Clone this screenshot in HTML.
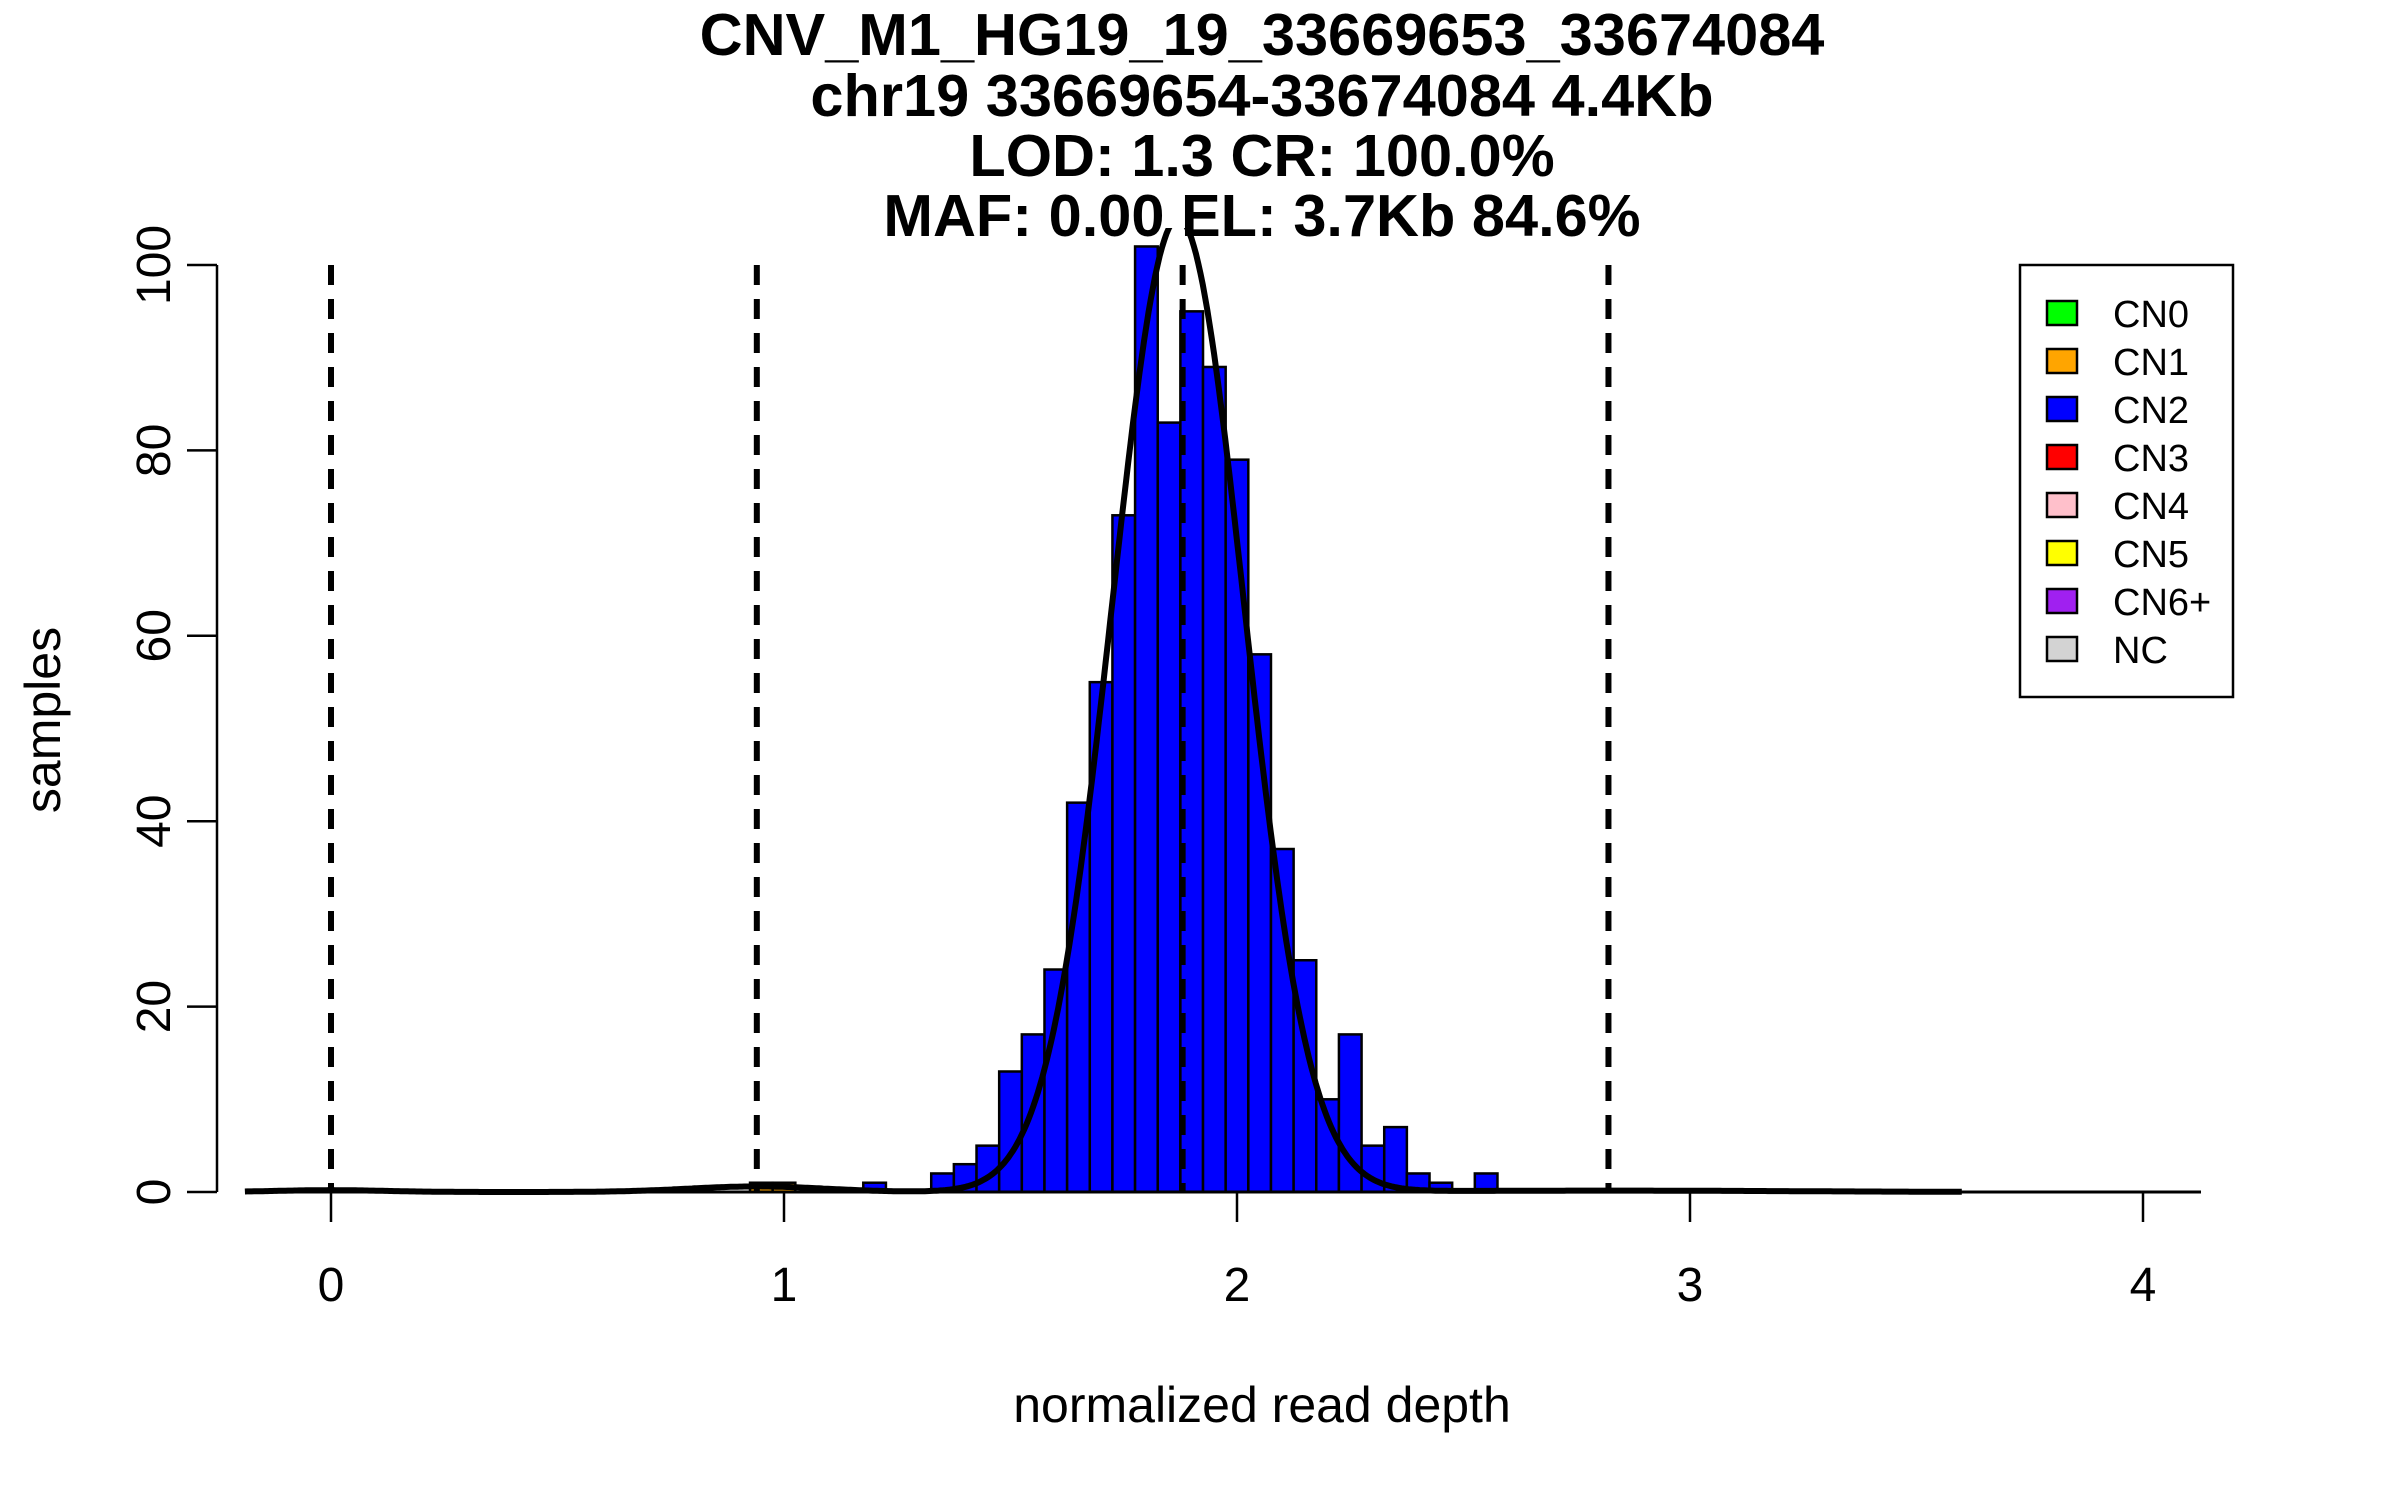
<!DOCTYPE html>
<html><head><meta charset="utf-8"><style>
html,body{margin:0;padding:0;background:#fff;}
svg{display:block;font-family:"Liberation Sans",Arial,sans-serif;}
</style></head><body>
<svg id="chart" width="2400" height="1500" viewBox="0 0 2400 1500" xmlns="http://www.w3.org/2000/svg">
<rect width="2400" height="1500" fill="#fff"/>
<g font-weight="bold" font-size="59.5" text-anchor="middle" fill="#000">
<text x="1262" y="55">CNV_M1_HG19_19_33669653_33674084</text>
<text x="1262" y="116">chr19 33669654-33674084 4.4Kb</text>
<text x="1262" y="176">LOD: 1.3 CR: 100.0%</text>
<text x="1262" y="236">MAF: 0.00 EL: 3.7Kb 84.6%</text>
</g>
<defs><clipPath id="plotclip"><rect x="200" y="228" width="2050" height="977"/></clipPath></defs>
<g id="bars" clip-path="url(#plotclip)"></g>
<g id="dashes"></g>
<path id="curve" fill="none" stroke="#000" stroke-width="6" clip-path="url(#plotclip)"/>
<g id="axes"></g>
<text x="1262" y="1422" font-size="50" text-anchor="middle">normalized read depth</text>
<text transform="translate(60,720) rotate(-90)" font-size="50" text-anchor="middle">samples</text>
<g id="legend"></g>
</svg>
<script>
const binStart = 1.775;
const binWidth = 0.05;
const binIndex = [-17,-16,-12,-9,-8,-7,-6,-5,-4,-3,-2,-1,0,1,2,3,4,5,6,7,8,9,10,11,12,13,15];
const binCounts = [1,1,1,2,3,5,13,17,24,42,55,73,102,83,95,89,79,58,37,25,10,17,5,7,2,1,2];
const binColors = ["orange","orange","blue","blue","blue","blue","blue","blue","blue","blue","blue","blue","blue","blue","blue","blue","blue","blue","blue","blue","blue","blue","blue","blue","blue","blue","blue"];
const thresholds = [0, 0.94, 1.88, 2.82];
const xTicks = [0,1,2,3,4];
const yTicks = [0,20,40,60,80,100];
const fitMean = 1.87, fitSd = 0.145, fitPeak = 105;
const minorMeans = [0, 0.94, 2.82];
const minorPeaks = [0.2, 0.6, 0.15];
const minorSds = [0.12, 0.15, 0.4];
const legendLabels = ["CN0","CN1","CN2","CN3","CN4","CN5","CN6+","NC"];
const legendColors = ["#00ff00","orange","blue","red","pink","yellow","#a020f0","lightgray"];

const NS = "http://www.w3.org/2000/svg";
const X = v => 331 + v * 453;
const Y = v => 1192 - v * 9.27;
function mk(tag, attrs, parent){ const e=document.createElementNS(NS,tag); for(const k in attrs) e.setAttribute(k,attrs[k]); parent.appendChild(e); return e; }

const bars = document.getElementById('bars');
binIndex.forEach((k,i)=>{
  const x0 = binStart + k*binWidth;
  const r = mk('rect',{x:X(x0),y:Y(binCounts[i]),width:X(x0+binWidth)-X(x0),height:Y(0)-Y(binCounts[i]),fill:binColors[i],stroke:'#000','stroke-width':2.5},bars);
  
  
});

const dashes = document.getElementById('dashes');
thresholds.forEach(t=>{
  const l = mk('line',{x1:X(t),x2:X(t),y1:Y(100),y2:Y(0),stroke:'#000','stroke-width':6,'stroke-dasharray':'20,14'},dashes);
  
  
});

let d = "";
for(let i=0;i<=760;i++){
  const x = -0.19 + i*(3.6+0.19)/760;
  let y = fitPeak*Math.exp(-0.5*Math.pow((x-fitMean)/fitSd,2));
  minorMeans.forEach((m,j)=>{ y += minorPeaks[j]*Math.exp(-0.5*Math.pow((x-m)/minorSds[j],2)); });
  d += (i?"L":"M") + X(x).toFixed(1) + "," + Y(y).toFixed(1);
}
document.getElementById('curve').setAttribute('d', d);

const axes = document.getElementById('axes');
mk('line',{x1:245,x2:2201,y1:Y(0),y2:Y(0),stroke:'#000','stroke-width':3},axes);
mk('line',{x1:217,x2:217,y1:Y(0),y2:Y(100),stroke:'#000','stroke-width':2.5},axes);
xTicks.forEach(t=>{
  mk('line',{x1:X(t),x2:X(t),y1:Y(0),y2:Y(0)+30,stroke:'#000','stroke-width':2.5},axes);
  const tx = mk('text',{x:X(t),y:1301,'font-size':48,'text-anchor':'middle'},axes);
  tx.textContent = t;
  
  
});
yTicks.forEach(t=>{
  mk('line',{x1:217,x2:187,y1:Y(t),y2:Y(t),stroke:'#000','stroke-width':2.5},axes);
  const tx = mk('text',{transform:`translate(170,${Y(t)}) rotate(-90)`,'font-size':48,'text-anchor':'middle'},axes);
  tx.textContent = t;
  
  
});

const lg = document.getElementById('legend');
mk('rect',{x:2020,y:265,width:213,height:432,fill:'#fff',stroke:'#000','stroke-width':2.5},lg);
legendLabels.forEach((lab,i)=>{
  const cy = 313 + i*48;
  const sw = mk('rect',{x:2047,y:cy-12,width:30,height:24,fill:legendColors[i],stroke:'#000','stroke-width':2.5},lg);
  
  
  const tx = mk('text',{x:2113,y:cy+14,'font-size':38},lg);
  tx.textContent = lab;
  
  
});
</script>
</body></html>
